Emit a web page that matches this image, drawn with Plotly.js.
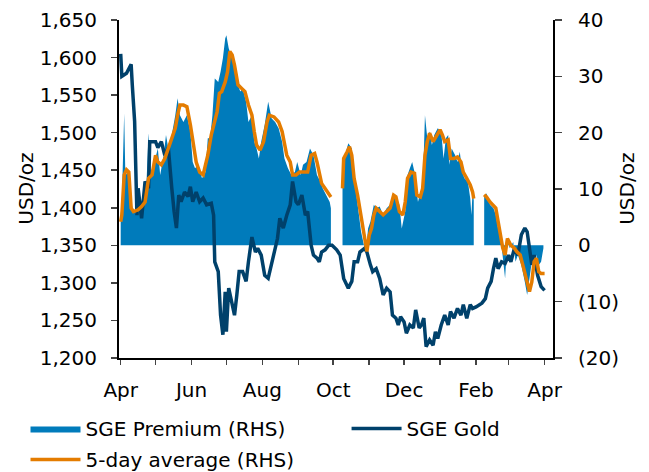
<!DOCTYPE html>
<html>
<head>
<meta charset="utf-8">
<script src="https://cdn.plot.ly/plotly-3.0.1.min.js"></script>
<style>
  html, body { margin: 0; padding: 0; background: #fff; }
  #chart { width: 649px; height: 472px; }
</style>
</head>
<body>
<div id="chart"></div>
<script>
// days are counted from 1 Apr 2013
let goldDays = [0,1,5,9,10,12,14,15,18,21,24,25,30,32,35,38,41,42,44,46,
  48,50,52,55,58,60,62,65,68,71,74,78,80,81,84,86,88,90,91,93,
  95,98,100,102,105,108,110,113,116,118,121,124,127,130,133,135,137,140,143,146,
  148,151,153,156,159,161,164,166,169,171,173,176,179,182,186,189,192,196,199,201,
  204,206,210,212,215,217,220,223,226,229,232,234,237,239,241,244,246,249,252,254,
  257,259,261,263,266,269,271,273,276,279,282,284,287,290,293,295,298,301,303,306,
  311,314,316,319,321,323,325,328,331,334,336,339,342,345,348,350,352,354,356,359,
  362,365];
let goldUsd = [1605,1575,1579,1591,1563,1515,1390,1426,1386,1435,
  1426,1488,1488,1480,1488,1470,1480,1457,1426,1395,
  1373,1417,1408,1421,1415,1428,1408,1421,1408,1413,
  1404,1406,1390,1328,1315,1257,1231,1288,1235,1293,
  1279,1257,1284,1315,1315,1302,1328,1361,1341,1346,
  1337,1310,1306,1328,1350,1359,1386,1373,1390,1404,
  1435,1408,1404,1417,1390,1395,1350,1337,1333,1328,
  1341,1344,1350,1350,1344,1337,1306,1293,1302,1328,
  1328,1341,1346,1341,1324,1315,1319,1306,1284,1293,
  1288,1257,1253,1244,1255,1248,1233,1244,1240,1264,
  1240,1244,1253,1215,1224,1217,1235,1226,1244,1257,
  1244,1262,1253,1266,1257,1271,1253,1271,1266,1268,
  1273,1279,1293,1302,1319,1333,1319,1328,1326,1337,
  1328,1346,1337,1364,1373,1368,1346,1324,1337,1310,
  1295,1290];

// null = no SGE trading (Golden Week, Chinese New Year)
let premDays = [0,1,3,4,7,9,11,14,17,19,22,24,26,29,32,34,37,39,41,44,
  47,49,51,54,57,60,62,64,67,70,73,75,77,79,81,84,86,88,90,91,
  93,94,97,100,103,105,108,110,113,115,117,119,121,124,127,130,133,136,139,141,
  144,147,150,152,155,157,160,163,166,169,172,174,177,180,181,186,
  191,192,194,196,199,201,203,205,207,210,212,213,215,218,220,223,226,229,232,235,
  237,240,242,245,247,249,251,253,256,258,260,262,264,266,268,270,273,276,278,280,
  282,283,285,288,290,292,294,296,299,301,302,303,304,308,
  313,315,318,321,323,325,327,329,331,333,335,338,340,342,345,348,350,352,354,356,
  358,360,362,364];
let premVals = [5.4,7.7,23.4,12.5,13,7.7,6,5.4,6.6,7.2,10.1,19.9,13,14.8,17.2,12.5,16,19.6,17.2,19.6,
  23.1,26.1,23.1,21.9,23.1,20.2,14.8,13.7,14.3,11.9,13,19,19,23.1,29.6,29,30.8,33.2,36.7,37.3,
  35,34.4,32.6,29,27.3,27.9,25.5,21.9,23.1,18.4,17.2,15.4,18.4,21.4,25.5,22.5,21.9,20.8,18.4,15.4,
  13.7,12.5,13,14.8,12.5,14.3,14.8,17.2,16,12.5,11.3,10.1,8.9,7.7,6.6,null,
  11.3,15.4,16.6,18.1,17.2,11.9,8.9,6,2.4,-0.5,0.6,3,4.2,7.2,6.6,6.9,5.4,6.6,7.2,8.9,
  8.6,7.2,3,6,12.5,13.7,14.8,13,7.7,9.5,9.5,23.1,19,20.2,17.8,19.6,20.8,20.2,15.4,19,
  19.6,14.3,17.2,16,14.8,16.6,13,11.9,11.3,8.3,5.4,9.5,8,null,
  8.9,9.2,7.2,6.6,5.4,3,1.8,-1.7,-5.9,1.2,-0.5,0.6,-2.9,-1.7,-3.5,-6.5,-8.8,-5.9,-2.9,-4.1,
  -1.7,-3.5,-2.9,-0.5];

let avgDays = [0,1,3,5,7,9,11,15,18,21,24,27,30,32,35,38,41,44,47,49,
  51,54,57,60,62,65,68,71,73,75,78,81,83,85,87,90,92,94,96,98,
  101,104,107,110,113,115,117,120,123,126,128,132,136,139,141,143,146,148,151,154,
  158,161,164,167,169,171,173,176,179,181,186,
  191,192,195,197,199,201,204,207,210,212,214,216,218,220,223,226,229,232,235,237,
  240,243,245,247,250,253,255,258,260,262,264,266,269,272,275,277,279,282,284,287,
  290,293,295,298,301,303,304,308,
  313,315,318,321,323,325,327,329,331,333,336,339,341,344,347,350,352,354,356,358,
  360,362,365];
let avgVals = [4.2,5.4,12.5,13.4,13,6.6,6,6.3,6.9,7.7,11.9,12.5,16,14.8,14.3,15.4,17.2,19,20.8,23.1,
  24.9,24.9,24.6,21.4,18.4,14.8,13,12.5,14.3,16,19.6,22.5,23.7,27,27.3,29,30.8,34.4,33.8,32,
  28.5,27.9,27.3,24.9,23.1,20.2,17.8,16.9,18.4,21.9,23.1,22.8,21.9,20.2,18.4,16,14.8,12.5,12.5,13,
  13,13,16,16.3,14.8,12.5,11,10.1,9.2,8.6,null,
  10.1,15.4,16.6,17.5,16,11.9,8.9,5.4,1.8,-1.1,1.8,3,5.4,6.6,6,5.4,6,6.6,8.9,8.6,
  6,5.4,7.7,11.9,13,12.8,8.9,8.6,10.1,16,18.4,19.9,18.4,19.6,20.5,19.6,18.4,18.7,15.4,15.4,
  15.7,14.8,13,11.9,10.7,9.5,8.3,null,
  9,8.6,7.7,6.9,6.6,4.2,1.8,-0.5,-1.7,1.2,0,-0.5,-1.1,-1.7,-4.1,-6.5,-8.2,-6.5,-2.9,-2.3,
  -4.7,-5,-5];

let tickMonths = ["2013-04-01","2013-05-01","2013-06-01","2013-07-01","2013-08-01","2013-09-01","2013-10-01",
  "2013-11-01","2013-12-01","2014-01-01","2014-02-01","2014-03-01","2014-04-01"];
let tickLabels = ["Apr","","Jun","","Aug","","Oct","","Dec","","Feb","","Apr"];
let rhsTicks = [-20,-10,0,10,20,30,40];
let rhsLabels = ["(20)","(10)","0","10","20","30","40"];

function toDate(d) {
  return new Date(Date.UTC(2013, 3, 1) + d * 86400000).toISOString().slice(0, 10);
}

// fill:'tozeroy' bridges nulls, so cut the premium into separate pieces
function splitAtNulls(days, vals) {
  let pieces = [];
  let cur = {x: [], y: []};
  for (let i = 0; i < days.length; i++) {
    if (vals[i] === null) {
      if (cur.x.length) pieces.push(cur);
      cur = {x: [], y: []};
    } else {
      cur.x.push(toDate(days[i]));
      cur.y.push(vals[i]);
    }
  }
  if (cur.x.length) pieces.push(cur);
  return pieces;
}

let fontFamily = "DejaVu Sans, Verdana, sans-serif";
let fontSize = 20;
let premColor = "#007bbb";
let goldColor = "#00416b";
let avgColor = "#e47c00";

let data = [];
splitAtNulls(premDays, premVals).forEach(function(piece, i) {
  data.push({
    x: piece.x,
    y: piece.y,
    name: "SGE Premium (RHS)",
    legendgroup: "prem",
    showlegend: i === 0,
    type: "scatter",
    mode: "lines",
    fill: "tozeroy",
    fillcolor: premColor,
    line: {width: 0, color: premColor},
    yaxis: "y"
  });
});
data.push({
  x: goldDays.map(toDate),
  y: goldUsd,
  name: "SGE Gold",
  legend: "legend2",
  type: "scatter",
  mode: "lines",
  line: {width: 3.5, color: goldColor},
  yaxis: "y2"
});
data.push({
  x: avgDays.map(toDate),
  y: avgVals,
  name: "5-day average (RHS)",
  legendgroup: "avg",
  type: "scatter",
  mode: "lines",
  line: {width: 3.5, color: avgColor},
  yaxis: "y3"
});

let axisTitle = {
  text: "USD/oz",
  textangle: -90,
  showarrow: false,
  xref: "paper",
  yref: "paper",
  y: 0.5,
  xanchor: "center",
  yanchor: "middle",
  font: {size: fontSize}
};

let layout = {
  width: 649,
  height: 472,
  margin: {l: 119, r: 96, t: 20, b: 114, autoexpand: false},
  paper_bgcolor: "#ffffff",
  plot_bgcolor: "#ffffff",
  font: {family: fontFamily, size: fontSize, color: "#000000"},
  showlegend: true,
  legend: {
    orientation: "v",
    xref: "container",
    yref: "container",
    x: 0.0393,
    y: 0.1335,
    xanchor: "left",
    yanchor: "top",
    itemwidth: 50,
    traceorder: "grouped",
    tracegroupgap: 2,
    font: {size: fontSize},
    bgcolor: "rgba(0,0,0,0)"
  },
  legend2: {
    orientation: "v",
    xref: "container",
    yref: "container",
    x: 0.534,
    y: 0.1335,
    xanchor: "left",
    yanchor: "top",
    itemwidth: 50,
    font: {size: fontSize},
    bgcolor: "rgba(0,0,0,0)"
  },
  annotations: [
    Object.assign({}, axisTitle, {x: -0.215}),
    Object.assign({}, axisTitle, {x: 1.17})
  ],
  xaxis: {
    type: "date",
    range: ["2013-03-30 13:00", "2014-04-08 06:00"],
    tickvals: tickMonths,
    ticktext: tickLabels,
    ticks: "outside",
    ticklen: 5,
    tickwidth: 1.5,
    showline: true,
    linewidth: 2,
    linecolor: "#000000",
    showgrid: false,
    zeroline: false,
    ticklabelstandoff: 8
  },
  yaxis: {
    side: "right",
    range: [-20, 40],
    tickvals: rhsTicks,
    ticktext: rhsLabels,
    ticks: "outside",
    ticklen: 7,
    tickwidth: 1.5,
    showline: true,
    linewidth: 2,
    linecolor: "#000000",
    showgrid: false,
    zeroline: false,
    ticklabelstandoff: 12
  },
  yaxis2: {
    overlaying: "y",
    side: "left",
    range: [1200, 1650],
    dtick: 50,
    tickformat: ",",
    ticks: "outside",
    ticklen: 6,
    tickwidth: 1.5,
    showline: true,
    linewidth: 2,
    linecolor: "#000000",
    showgrid: false,
    zeroline: false,
    ticklabelstandoff: 10
  },
  yaxis3: {
    overlaying: "y",
    range: [-20, 40],
    visible: false
  }
};

Plotly.newPlot("chart", data, layout, {displayModeBar: false, staticPlot: true});
</script>
</body>
</html>
